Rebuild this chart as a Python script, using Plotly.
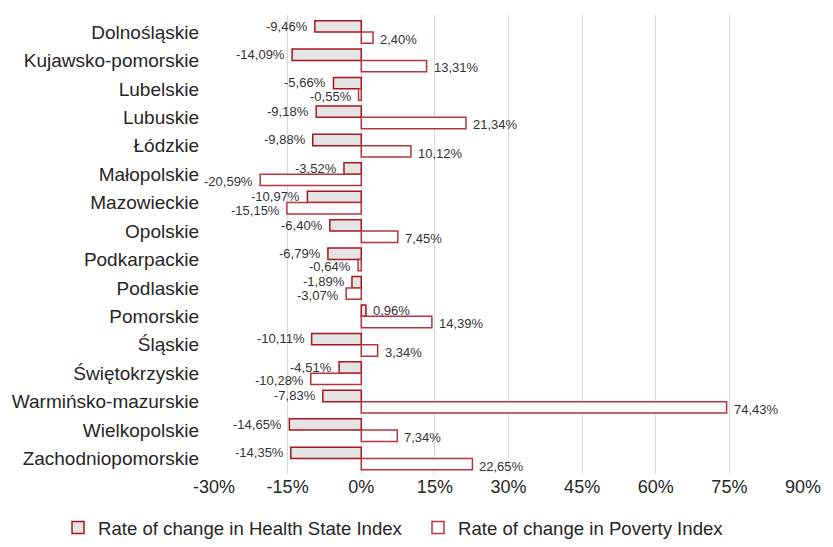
import plotly.graph_objects as go

regions = ["Dolnośląskie", "Kujawsko-pomorskie", "Lubelskie", "Lubuskie", "Łódzkie",
           "Małopolskie", "Mazowieckie", "Opolskie", "Podkarpackie", "Podlaskie",
           "Pomorskie", "Śląskie", "Świętokrzyskie", "Warmińsko-mazurskie",
           "Wielkopolskie", "Zachodniopomorskie"]
health = [-9.46, -14.09, -5.66, -9.18, -9.88, -3.52, -10.97, -6.40, -6.79, -1.89,
          0.96, -10.11, -4.51, -7.83, -14.65, -14.35]
poverty = [2.40, 13.31, -0.55, 21.34, 10.12, -20.59, -15.15, 7.45, -0.64, -3.07,
           14.39, 3.34, -10.28, 74.43, 7.34, 22.65]
tick_vals = [-30, -15, 0, 15, 30, 45, 60, 75, 90]
tick_text = ["-30%", "-15%", "0%", "15%", "30%", "45%", "60%", "75%", "90%"]


def fmt(v):
    return f"{v:.2f}".replace(".", ",") + "%"


font_family = "Liberation Sans, Arial, sans-serif"
border = "#A8151C"

fig = go.Figure()
fig.add_trace(go.Bar(
    y=regions, x=health, orientation="h", name="Rate of change in Health State Index",
    marker=dict(color="#E4E4E4", line=dict(color=border, width=1.5)),
    legend="legend", showlegend=True,
))
fig.add_trace(go.Bar(
    y=regions, x=poverty, orientation="h", name="Rate of change in Poverty Index",
    marker=dict(color="#FFFFFF", line=dict(color="#B5353B", width=1.5)),
    legend="legend2", showlegend=True,
))

# value labels, placed beside each bar end
for series, yshift in ((health, 6), (poverty, -7.5)):
    for r, v in zip(regions, series):
        fig.add_annotation(
            x=v, y=r, text=fmt(v), showarrow=False,
            xanchor="left" if v >= 0 else "right",
            xshift=5 if v >= 0 else -5, yshift=yshift,
            font=dict(size=13, color="#333333", family=font_family),
        )

legend_common = dict(orientation="h", xref="container", yref="container",
                     y=0.0, xanchor="left", yanchor="bottom",
                     font=dict(size=18.6), itemwidth=30,
                     bgcolor="rgba(0,0,0,0)")

fig.update_layout(
    width=833, height=547,
    showlegend=True,
    margin=dict(l=213, r=28, t=15, b=70),
    barmode="group", bargap=0.2, bargroupgap=0.0,
    plot_bgcolor="white", paper_bgcolor="white",
    font=dict(family=font_family, size=18, color="#262626"),
    xaxis=dict(range=[-30, 90], tickvals=tick_vals, ticktext=tick_text,
               showgrid=True, gridcolor="#D9D9D9", gridwidth=1,
               zeroline=True, zerolinecolor="#D9D9D9", zerolinewidth=1,
               showline=False, ticks="", tickfont=dict(size=18)),
    yaxis=dict(autorange="reversed", showgrid=False, ticks="",
               tickfont=dict(size=19), showline=False, ticklabelstandoff=14),
    legend=dict(legend_common, x=58 / 833),
    legend2=dict(legend_common, x=418 / 833),
)

fig.write_html("out.html")
